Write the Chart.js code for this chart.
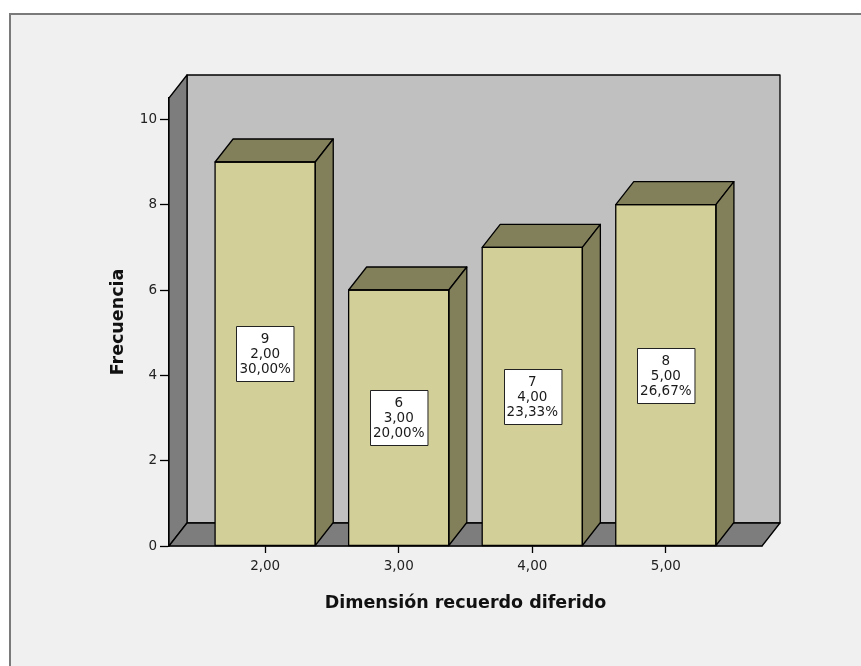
<!DOCTYPE html>
<html>
<head>
<meta charset="utf-8">
<script src="https://cdn.jsdelivr.net/npm/chart.js@4/dist/chart.umd.min.js"></script>
<style>
  html, body { margin: 0; padding: 0; background: #ffffff; }
  canvas { display: block; }
</style>
</head>
<body>
<canvas id="chart" width="861" height="666"></canvas>
<script>
// Categories of "Dimensión recuerdo diferido" and their frequencies
const categories = [2, 3, 4, 5];
const counts = [9, 6, 7, 8];
const percents = [30.00, 20.00, 23.33, 26.67];
const yTicks = [0, 2, 4, 6, 8, 10];

const fmt = (v, d) => v.toFixed(d).replace('.', ',');

// depth of the 3D extrusion, in pixels
const DX = 18, DY = 23;

const COLORS = {
  page: '#ffffff',
  panel: '#f0f0f0',
  panelEdge: '#7a7a7a',
  wall: '#c0c0c0',
  wallDark: '#7d7d7d',
  barFront: '#d3cf98',
  barDark: '#827f5b',
  line: '#000000'
};

function poly(ctx, pts, fill) {
  ctx.beginPath();
  ctx.moveTo(pts[0][0], pts[0][1]);
  for (let i = 1; i < pts.length; i++) ctx.lineTo(pts[i][0], pts[i][1]);
  ctx.closePath();
  ctx.fillStyle = fill;
  ctx.fill();
  ctx.lineWidth = 1.3;
  ctx.strokeStyle = COLORS.line;
  ctx.lineJoin = 'round';
  ctx.stroke();
}

const box3d = {
  id: 'box3d',
  beforeDraw(chart) {
    const ctx = chart.ctx;
    ctx.save();
    ctx.fillStyle = COLORS.page;
    ctx.fillRect(0, 0, chart.width, chart.height);
    ctx.fillStyle = COLORS.panel;
    ctx.fillRect(9, 13, chart.width - 9, chart.height - 13);
    ctx.strokeStyle = COLORS.panelEdge;
    ctx.lineWidth = 2;
    ctx.beginPath();
    ctx.moveTo(10, chart.height);
    ctx.lineTo(10, 14);
    ctx.lineTo(chart.width, 14);
    ctx.stroke();
    ctx.restore();
  },
  beforeDatasetsDraw(chart) {
    const ctx = chart.ctx;
    const a = chart.chartArea;
    const L = a.left, R = a.right, T = a.top, B = a.bottom;
    ctx.save();
    // back wall
    poly(ctx, [[L + DX, T - DY], [R + DX, T - DY], [R + DX, B - DY], [L + DX, B - DY]], COLORS.wall);
    // left wall
    poly(ctx, [[L, T], [L + DX, T - DY], [L + DX, B - DY], [L, B]], COLORS.wallDark);
    // floor
    poly(ctx, [[L, B], [L + DX, B - DY], [R + DX, B - DY], [R, B]], COLORS.wallDark);
    ctx.restore();
  },
  afterDatasetsDraw(chart) {
    const ctx = chart.ctx;
    const meta = chart.getDatasetMeta(0);
    ctx.save();
    meta.data.forEach((bar, i) => {
      const p = bar.getProps(['x', 'y', 'base', 'width'], true);
      const l = p.x - p.width / 2, r = p.x + p.width / 2;
      // top face
      poly(ctx, [[l, p.y], [l + DX, p.y - DY], [r + DX, p.y - DY], [r, p.y]], COLORS.barDark);
      // side face
      poly(ctx, [[r, p.y], [r + DX, p.y - DY], [r + DX, p.base - DY], [r, p.base]], COLORS.barDark);
      // front outline
      ctx.lineWidth = 1.3;
      ctx.strokeStyle = COLORS.line;
      ctx.strokeRect(l, p.y, p.width, p.base - p.y);

      // value label box
      const lines = [String(counts[i]), fmt(categories[i], 2), fmt(percents[i], 2) + '%'];
      ctx.font = '13.5px "DejaVu Sans", sans-serif';
      const w = Math.max(...lines.map(t => ctx.measureText(t).width)) + 6;
      const lh = 15;
      const h = lines.length * lh + 10;
      const cy = (p.y + p.base) / 2;
      const bx = Math.round(p.x - w / 2) + 0.5, by = Math.round(cy - h / 2) + 0.5;
      ctx.fillStyle = '#ffffff';
      ctx.fillRect(bx, by, w, h);
      ctx.lineWidth = 1;
      ctx.strokeStyle = '#222222';
      ctx.strokeRect(bx, by, w, h);
      ctx.fillStyle = '#1a1a1a';
      ctx.textAlign = 'center';
      ctx.textBaseline = 'middle';
      lines.forEach((t, k) => {
        ctx.fillText(t, p.x, by + 5 + lh / 2 + k * lh + 0.5);
      });
    });
    ctx.restore();
  }
};

new Chart(document.getElementById('chart'), {
  type: 'bar',
  data: {
    datasets: [{
      data: categories.map((c, i) => ({ x: c, y: counts[i] })),
      backgroundColor: COLORS.barFront,
      borderColor: COLORS.line,
      borderWidth: 0,
      barPercentage: 0.75,
      categoryPercentage: 1
    }]
  },
  options: {
    responsive: false,
    animation: false,
    events: [],
    layout: { padding: { left: 104, top: 98, right: 99, bottom: 48 } },
    plugins: { legend: { display: false }, tooltip: { enabled: false } },
    scales: {
      x: {
        type: 'linear',
        min: 1.28,
        max: 5.72,
        offset: false,
        afterBuildTicks(scale) { scale.ticks = categories.map(v => ({ value: v })); },
        afterFit(scale) { scale.height = 72; },
        grid: { display: true, offset: false, drawOnChartArea: false, drawTicks: true, tickLength: 7, color: '#000000', tickWidth: 1.3 },
        border: { display: true, color: '#000000', width: 1.3 },
        ticks: {
          padding: 5,
          color: '#222222',
          font: { family: '"DejaVu Sans", sans-serif', size: 13.5 },
          callback: v => fmt(v, 2)
        },
        title: {
          display: true,
          text: 'Dimensión recuerdo diferido',
          color: '#111111',
          font: { family: '"DejaVu Sans", sans-serif', size: 17.5, weight: 'bold', lineHeight: 1.2 },
          padding: { top: 4, bottom: 4 }
        }
      },
      y: {
        type: 'linear',
        min: 0,
        max: 10.5,
        afterBuildTicks(scale) { scale.ticks = yTicks.map(v => ({ value: v })); },
        afterFit(scale) { scale.width = 65; },
        grid: { display: true, drawOnChartArea: false, drawTicks: true, tickLength: 9, color: '#000000', tickWidth: 1.3 },
        border: { display: true, color: '#000000', width: 1.3 },
        ticks: {
          padding: 3,
          color: '#222222',
          font: { family: '"DejaVu Sans", sans-serif', size: 13.5 }
        },
        title: {
          display: true,
          text: 'Frecuencia',
          color: '#111111',
          font: { family: '"DejaVu Sans", sans-serif', size: 17.5, weight: 'bold', lineHeight: 1.2 },
          padding: { top: 4, bottom: 4 }
        }
      }
    }
  },
  plugins: [box3d]
});
</script>
</body>
</html>
